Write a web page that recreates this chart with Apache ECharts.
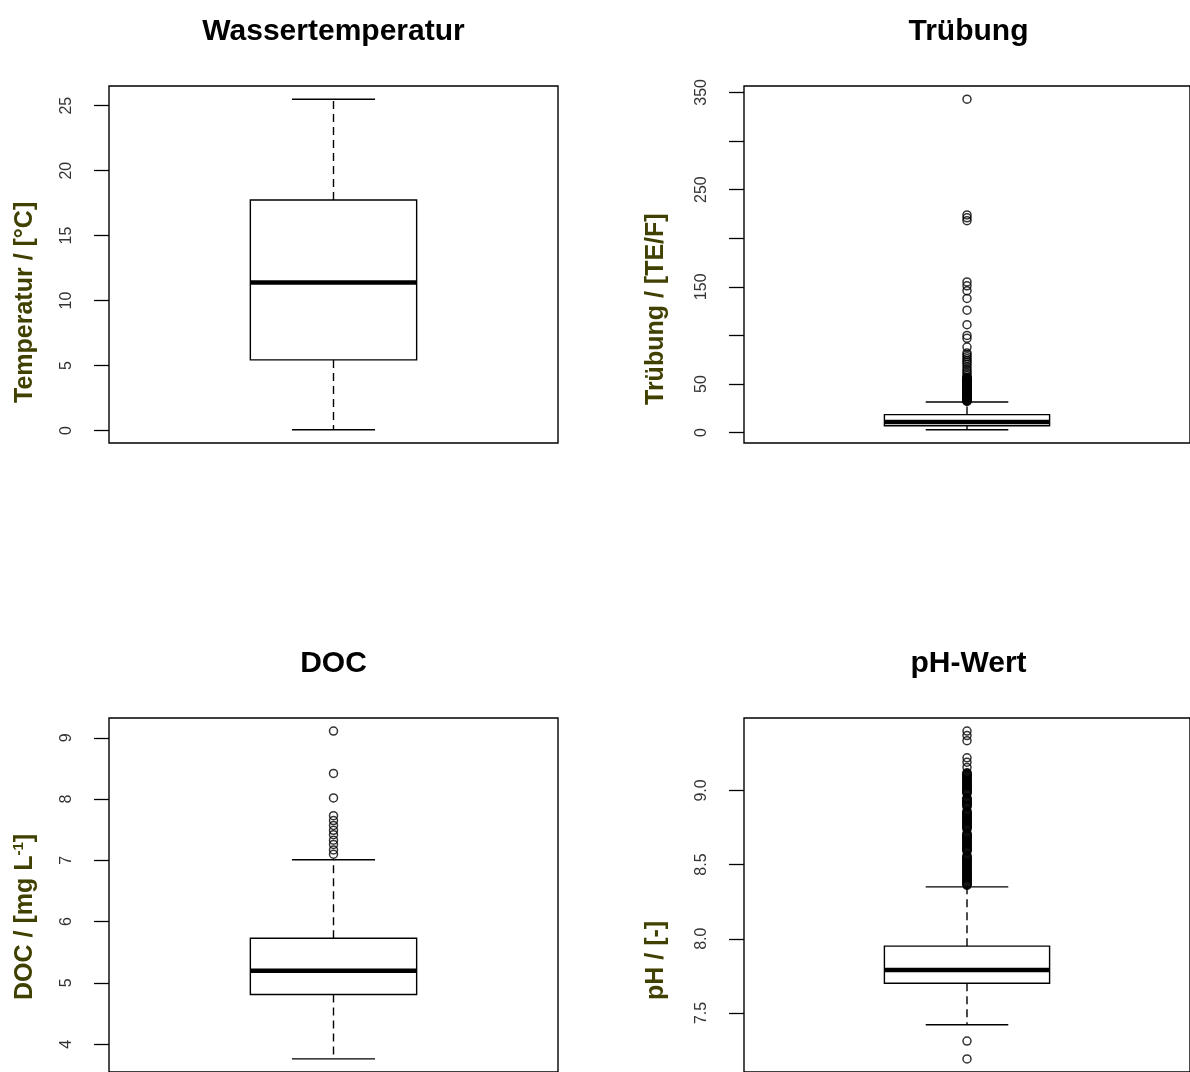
<!DOCTYPE html>
<html>
<head>
<meta charset="utf-8">
<script src="https://cdn.jsdelivr.net/npm/echarts@6/dist/echarts.min.js"></script>
<style>html,body{margin:0;padding:0;background:#fff}#c{width:1190px;height:1072px}</style>
</head>
<body>
<div id="c"></div>
<script>
// ---- data ----
const titles = ['Wassertemperatur', 'Trübung', 'DOC', 'pH-Wert'];
const axisNames = ['{n|Temperatur / [°C]}', '{n|Trübung / [TE/F]}', '{n|DOC / [mg L}{s|-1}{n|]}', '{n|pH / [-]}'];

// [lower whisker, Q1, median, Q3, upper whisker]
const tempStats = [0.05, 5.43, 11.38, 17.74, 25.5];
const tempOutliers = [];
const turbStats = [2.9, 7, 11, 18.5, 31.5];
const turbOutliers = [343, 224, 221, 218, 155, 151, 146, 138, 126, 111, 100, 97, 88, 82, 80, 78, 76, 74, 72, 70,
  67.5, 65, 63, 61, 59, 57, 56.5, 56, 55.5, 55, 54.5, 54, 53.5, 53, 52.5, 52, 51.5, 51, 50.5, 50, 49.5, 49,
  48.5, 48, 47.5, 47, 46.5, 46, 45.5, 45, 44.5, 44, 43.5, 43, 42.5, 42, 41.5, 41, 40.5, 40, 39.5, 39, 38.5,
  38, 37.5, 37, 36.5, 36, 35.5, 35, 34.5, 34, 33.5, 33, 32.5, 32];
const docStats = [3.76, 4.81, 5.20, 5.73, 7.01];
const docOutliers = [9.11, 8.42, 8.02, 7.73, 7.65, 7.57, 7.49, 7.42, 7.33, 7.26, 7.17, 7.10];
const phStats = [7.42, 7.70, 7.79, 7.95, 8.35];
const phOutliers = [9.40, 9.37, 9.335, 9.22, 9.19, 9.155,
  9.120, 9.115, 9.110, 9.105, 9.100, 9.095, 9.090, 9.085, 9.080, 9.075, 9.070, 9.065, 9.060, 9.055, 9.050,
  9.045, 9.040, 9.035, 9.030, 9.025, 9.020, 9.015, 9.010, 9.005, 9.000, 8.995, 8.990, 8.985, 8.980,
  8.950, 8.945, 8.940, 8.935, 8.930, 8.925, 8.920, 8.915, 8.910, 8.905, 8.900, 8.895, 8.890,
  8.860, 8.855, 8.850, 8.845, 8.840, 8.835, 8.830, 8.825, 8.820, 8.815, 8.810, 8.805, 8.800, 8.795, 8.790,
  8.785, 8.780, 8.775, 8.770, 8.765, 8.760, 8.755, 8.750, 8.745, 8.740,
  8.710, 8.705, 8.700, 8.695, 8.690, 8.685, 8.680, 8.675, 8.670, 8.665, 8.660, 8.655, 8.650, 8.645, 8.640,
  8.635, 8.630, 8.625, 8.620, 8.615, 8.610, 8.605, 8.600, 8.595, 8.590,
  8.560, 8.555, 8.550, 8.545, 8.540, 8.535, 8.530, 8.525, 8.520, 8.515, 8.510, 8.505, 8.500, 8.495, 8.490,
  8.485, 8.480, 8.475, 8.470, 8.465, 8.460, 8.455, 8.450, 8.445, 8.440, 8.435, 8.430, 8.425, 8.420, 8.415,
  8.410, 8.405, 8.400, 8.395, 8.390, 8.385, 8.380, 8.375, 8.370, 8.365, 8.360,
  7.31, 7.19];

const tempTicks = [0, 5, 10, 15, 20, 25];
const tempLabels = [0, 5, 10, 15, 20, 25];
const turbTicks = [0, 50, 100, 150, 200, 250, 300, 350];
const turbLabels = [0, 50, 150, 250, 350];
const docTicks = [4, 5, 6, 7, 8, 9];
const docLabels = [4, 5, 6, 7, 8, 9];
const phTicks = [7.5, 8.0, 8.5, 9.0];
const phLabels = [7.5, 8.0, 8.5, 9.0];

const statsList = [tempStats, turbStats, docStats, phStats];
const outList = [tempOutliers, turbOutliers, docOutliers, phOutliers];
const tickList = [tempTicks, turbTicks, docTicks, phTicks];
const labelList = [tempLabels, turbLabels, docLabels, phLabels];
const decimals = [0, 0, 0, 1];

// ---- layout ----
const FONT = "'Liberation Sans', Arial, Helvetica, sans-serif";
const gridPos = [
  {left: 109, top: 86}, {left: 744, top: 86},
  {left: 109, top: 718}, {left: 744, top: 718}
];
const GW = 449, GH = 357;
// where the rotated y-axis titles start (bottom end of text)
const namePos = [{x: 25, y: 403}, {x: 656, y: 405}, {x: 25, y: 1000}, {x: 656, y: 1000}];
const NAME_COLOR = '#404000';

const chart = echarts.init(document.getElementById('c'), null, {renderer: 'canvas'});

const grids = [], xAxes = [], yAxes = [], series = [], titleArr = [], graphics = [];
for (let i = 0; i < 4; i++) {
  const st = statsList[i], out = outList[i];
  const all = st.concat(out);
  const lo = Math.min.apply(null, all), hi = Math.max.apply(null, all);
  const ext = (hi - lo) * 0.04;
  grids.push({left: gridPos[i].left, top: gridPos[i].top, width: GW, height: GH,
    show: true, borderColor: '#000', borderWidth: 1.4, backgroundColor: 'transparent', containLabel: false});
  xAxes.push({type: 'value', gridIndex: i, min: 0.46, max: 1.54, show: false});
  const dec = decimals[i];
  yAxes.push({
    type: 'value', gridIndex: i, min: lo - ext, max: hi + ext,
    axisLine: {show: false},
    splitLine: {show: false},
    axisTick: {show: true, customValues: tickList[i], length: 15, inside: false,
      lineStyle: {color: '#000', width: 1.3}},
    axisLabel: {show: true, customValues: labelList[i], rotate: 90, margin: 34,
      fontFamily: FONT, fontSize: 16, color: '#333',
      formatter: v => Number(v).toFixed(dec)}
  });
  graphics.push({
    type: 'text', x: namePos[i].x, y: namePos[i].y, rotation: Math.PI / 2,
    style: {
      text: axisNames[i], textAlign: 'left', textVerticalAlign: 'middle',
      rich: {
        n: {fontFamily: FONT, fontSize: 25, fontWeight: 'bold', fill: NAME_COLOR, color: NAME_COLOR, lineHeight: 27},
        s: {fontFamily: FONT, fontSize: 15, fontWeight: 'bold', fill: NAME_COLOR, color: NAME_COLOR, verticalAlign: 'top', lineHeight: 27}
      }
    }
  });
  titleArr.push({text: titles[i], left: gridPos[i].left + GW / 2 - 5, top: i < 2 ? 12 : 644, textAlign: 'center',
    textStyle: {fontFamily: FONT, fontSize: 30, fontWeight: 'bold', color: '#000'}});
  series.push({
    type: 'custom', xAxisIndex: i, yAxisIndex: i,
    data: [[1].concat(st)],
    encode: {x: 0, y: [1, 2, 3, 4, 5]},
    renderItem: function (params, api) {
      const x = api.value(0);
      const low = api.value(1), q1 = api.value(2), med = api.value(3), q3 = api.value(4), high = api.value(5);
      const bw = 0.2, cw = 0.1;
      const P = (xx, yy) => api.coord([xx, yy]);
      const line = (a, b, dash, w) => ({type: 'line', shape: {x1: a[0], y1: a[1], x2: b[0], y2: b[1]},
        style: {stroke: '#000', lineWidth: w || 1.4, lineDash: dash || null}});
      const tl = P(x - bw, q3), br = P(x + bw, q1);
      return {type: 'group', children: [
        line(P(x, q3), P(x, high), [8, 5]),
        line(P(x, q1), P(x, low), [8, 5]),
        line(P(x - cw, high), P(x + cw, high)),
        line(P(x - cw, low), P(x + cw, low)),
        {type: 'rect', shape: {x: tl[0], y: tl[1], width: br[0] - tl[0], height: br[1] - tl[1]},
          style: {fill: '#fff', stroke: '#000', lineWidth: 1.4}},
        line(P(x - bw, med), P(x + bw, med), null, 4.5)
      ]};
    },
    silent: true, z: 2
  });
  series.push({
    type: 'scatter', xAxisIndex: i, yAxisIndex: i,
    data: out.map(v => [1, v]),
    symbol: 'circle', symbolSize: 8,
    itemStyle: {color: 'rgba(255,255,255,0)', borderColor: '#000', borderWidth: 1.5},
    silent: true, z: 3
  });
}

chart.setOption({
  animation: false,
  backgroundColor: '#fff',
  title: titleArr,
  graphic: graphics,
  grid: grids, xAxis: xAxes, yAxis: yAxes, series: series
});
</script>
</body>
</html>
